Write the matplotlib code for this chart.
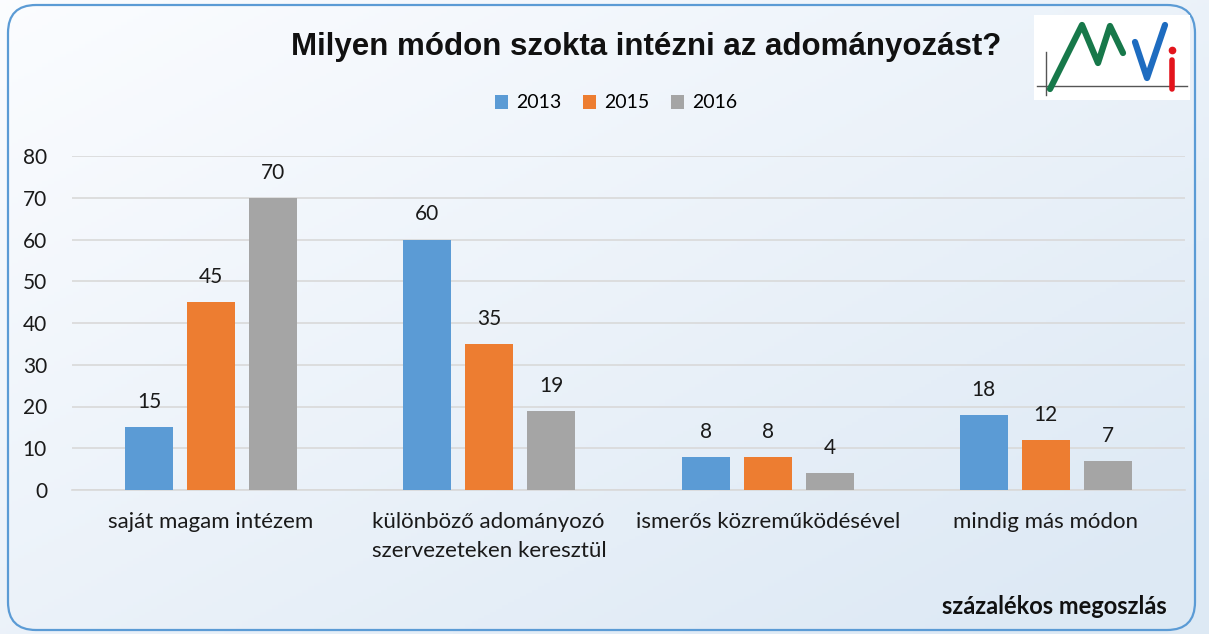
import matplotlib.pyplot as plt
import numpy as np
from matplotlib.patches import FancyBboxPatch, Rectangle

categories = ["saját magam intézem", "különböző adományozó\nszervezeteken keresztül",
              "ismerős közreműködésével", "mindig más módon"]
years = ["2013", "2015", "2016"]
v2013 = [15, 60, 8, 18]
v2015 = [45, 35, 8, 12]
v2016 = [70, 19, 4, 7]
colors = ["#5b9bd5", "#ed7d31", "#a5a5a5"]

plt.rcParams['font.family'] = ['Lato', 'DejaVu Sans']

W, H = 1209, 634
fig = plt.figure(figsize=(W / 100, H / 100), dpi=100)

# background in pixel coordinates
bg = fig.add_axes([0, 0, 1, 1], zorder=-10)
gy, gx = np.mgrid[0:1:200j, 0:1:200j]
grad = np.clip(0.55 * gx + 0.55 * gy, 0, 1)
base = np.array([0.985, 0.99, 1.0])
end = np.array([0.87, 0.915, 0.96])
img = base[None, None, :] * (1 - grad[..., None]) + end[None, None, :] * grad[..., None]
bg.imshow(img, extent=[0, W, H, 0], aspect='auto')
bg.set_xlim(0, W)
bg.set_ylim(H, 0)
bg.axis('off')
bg.add_patch(FancyBboxPatch((8, 5), 1187, 625, boxstyle="round,pad=0,rounding_size=28",
                            fill=False, ec="#5b9bd5", lw=1.6))

# logo
bg.add_patch(Rectangle((1034, 15), 156, 85, fc='white', ec='none'))
bg.plot([1037, 1187], [86, 86], color='#555555', lw=1.0)
bg.plot([1046, 1046], [52, 95], color='#555555', lw=1.0)
bg.plot([1050, 1082, 1098, 1110, 1123], [89, 25, 63, 26, 53], color='#17784a', lw=4.5,
        solid_capstyle='round', solid_joinstyle='round')
bg.plot([1135, 1147, 1165], [42, 78, 25], color='#1e6cc0', lw=4.5,
        solid_capstyle='round', solid_joinstyle='round')
bg.plot([1172, 1172], [60, 89], color='#e3141c', lw=4.0, solid_capstyle='round')
bg.plot([1172], [50], 'o', color='#e3141c', ms=4.5)

ax = fig.add_axes([72 / W, 1 - 490 / H, (1185 - 72) / W, (490 - 156) / H])
ax.patch.set_alpha(0)
x = np.arange(len(categories))
w = 0.173
step = 0.223
for i, (vals, lab) in enumerate(zip([v2013, v2015, v2016], years)):
    bars = ax.bar(x + (i - 1) * step, vals, w, color=colors[i], label=lab, zorder=3)
    for b, v in zip(bars, vals):
        ax.text(b.get_x() + b.get_width() / 2, v + 6.0, str(v), ha='center', va='center',
                fontsize=15, color='#1a1a1a')

ax.set_xlim(-0.5, 3.5)
ax.set_ylim(0, 80)
ax.set_yticks(range(0, 81, 10))
ax.yaxis.grid(True, color='#d9d9d9', lw=1.2, zorder=0)
ax.set_xticks(x)
ax.set_xticklabels(categories, fontsize=16, color='#1a1a1a', linespacing=1.55,
                   multialignment='left')
ax.tick_params(axis='y', labelsize=15, colors='#1a1a1a', length=0, pad=18)
ax.tick_params(axis='x', length=0, pad=16)
for s in ['top', 'right', 'left']:
    ax.spines[s].set_visible(False)
ax.spines['bottom'].set_color('#d9d9d9')
ax.spines['bottom'].set_linewidth(1.2)

fig.text(646 / W, 1 - 47 / H, "Milyen módon szokta intézni az adományozást?", ha='center',
         va='center', fontsize=22.5, fontweight='bold', color='#111111',
         family=['Liberation Sans', 'DejaVu Sans'])
fig.legend(loc='center', bbox_to_anchor=(616 / W, 1 - 103 / H), ncol=3, frameon=False,
           fontsize=14, handlelength=0.7, handleheight=0.7, columnspacing=1.1,
           handletextpad=0.4)
fig.text(1167 / W, 1 - 607 / H, "százalékos megoszlás", ha='right', va='center', fontsize=17,
         fontweight='bold', color='#111111')

fig.savefig("out.png", dpi=100)
